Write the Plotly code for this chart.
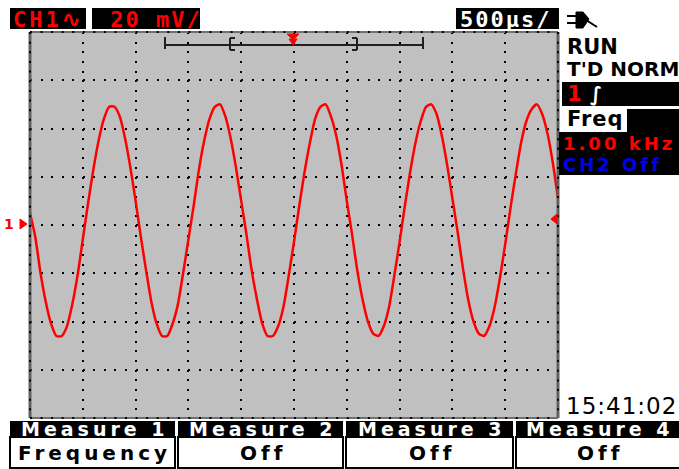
import plotly.graph_objects as go

sample_ms = 0.05          # spacing of the readings along time (ms)
ch1_mv = [
    5, -5, -20, -32, -41, -46, -46, -42, -33, -21, -6, 9, 23, 35, 44, 49, 49, 45, 36, 24,
    10, -5, -19, -32, -41, -46, -46, -41, -33, -20, -6, 8, 23, 35, 44, 49, 50, 45, 36, 24,
    10, -4, -19, -31, -41, -46, -46, -42, -34, -21, -7, 8, 22, 34, 44, 49, 50, 45, 37, 25,
    10, -4, -19, -31, -40, -45, -46, -42, -34, -21, -7, 8, 22, 34, 43, 49, 50, 46, 37, 25,
    11, -3, -18, -31, -40, -45, -46, -42, -34, -22, -8, 7, 21, 34, 43, 48, 50, 46, 38, 26,
    11,
]
time_range_ms = [0, 5]       # 10 div x 500 us/div
volt_range_mv = [-80, 80]    # 8 div x 20 mV/div
x_div_ms = 0.5
y_div_mv = 20

ch1_label = "CH1∿"
scale_label = " 20 mV/"
timebase_label = "500µs/"
status_labels = ["RUN", "T'D NORM"]
trig_src = "1"
trig_slope = "∫"
meas_title = "Freq"
meas_value = "1.00 kHz"
ch2_label = "CH2 Off"
clock_label = "15:41:02"
tab_titles = ["Measure 1", "Measure 2", "Measure 3", "Measure 4"]
tab_values = ["Frequency", "Off", "Off", "Off"]

# ---- layout geometry (pixels) ----
W, H = 679, 469
PL, PT, PR, PB = 30, 32, 558, 418
pw, ph = PR - PL, PB - PT


def X(px):
    return (px - PL) / pw


def Y(py):
    return (PB - py) / ph


RED = "#ff0000"
BLUE = "#0000f0"
MONO = "DejaVu Sans Mono"
SANS = "DejaVu Sans"

fig = go.Figure()
fig.add_trace(go.Scatter(
    y=ch1_mv, x0=time_range_ms[0], dx=sample_ms, mode="lines",
    line=dict(color=RED, width=2.5, shape="spline", smoothing=0.6),
    hoverinfo="skip", showlegend=False,
))

shapes = []


def rect(x0, y0, x1, y1, fill="black", line=None, lw=0):
    shapes.append(dict(type="rect", xref="paper", yref="paper",
                       x0=X(x0), x1=X(x1), y0=Y(y0), y1=Y(y1),
                       fillcolor=fill, line=dict(width=lw, color=line or fill),
                       layer="above"))


def seg(x0, y0, x1, y1, color="black", w=2, dash=None):
    d = dict(type="line", xref="paper", yref="paper",
             x0=X(x0), x1=X(x1), y0=Y(y0), y1=Y(y1),
             line=dict(color=color, width=w), layer="above")
    if dash:
        d["line"]["dash"] = dash
    shapes.append(d)


def path(pts, color):
    p = "M" + " L".join(f"{X(a)},{Y(b)}" for a, b in pts) + " Z"
    shapes.append(dict(type="path", xref="paper", yref="paper", path=p,
                       fillcolor=color, line=dict(color=color, width=1),
                       layer="above"))


# plot border with tick dots
hdash = f"2px,{pw / 50 - 2:.2f}px"
vdash = f"2px,{ph / 40 - 2:.2f}px"
seg(PL, PT, PR, PT, "#707070", 2)
seg(PL, PB, PR, PB, "#707070", 2)
seg(PL, PT, PL, PB, "#606060", 3)
seg(PR, PT, PR, PB, "#606060", 3)
seg(PL, PT, PR, PT, "black", 2, hdash)
seg(PL, PB, PR, PB, "black", 2, hdash)
seg(PL, PT, PL, PB, "black", 2, vdash)
seg(PR, PT, PR, PB, "black", 2, vdash)

# header boxes
rect(10, 8, 86, 29)
rect(92, 8, 200, 29)
rect(456, 8, 559, 29)
# plug icon
seg(567, 16, 577, 16, "black", 2)
seg(567, 23, 577, 23, "black", 2)
path([(576, 12), (583, 12), (589, 19), (583, 28), (576, 28)], "black")
seg(586, 20, 597, 27, "black", 2)

# trigger-position bar
seg(165, 45, 423, 45, "#202020", 2)
seg(165, 37, 165, 49, "#202020", 2)
seg(423, 37, 423, 49, "#202020", 2)
seg(230, 38, 230, 50, "#202020", 2)
seg(230, 38, 235, 38, "#202020", 2)
seg(230, 50, 235, 50, "#202020", 2)
seg(357, 38, 357, 50, "#202020", 2)
seg(352, 38, 357, 38, "#202020", 2)
seg(352, 50, 357, 50, "#202020", 2)
path([(287, 34), (299, 34), (293, 40)], RED)
path([(289, 39), (297, 39), (293, 45)], RED)

# right panel boxes
rect(562, 82, 679, 106)
rect(627, 109, 679, 132)
rect(559, 132, 679, 175)

# channel markers
path([(20, 219), (20, 229), (27, 224)], RED)
path([(557, 214), (557, 224), (551, 219)], RED)

# measurement tabs
tabs_x = [(10, 175), (178, 343), (346, 513), (516, 681)]
for (a, b) in tabs_x:
    rect(a, 421, b, 437)
    rect(a, 437, b, 468, fill="white", line="black", lw=2)

ann = []


def text(x, y, s, color="black", size=20, family=SANS, bold=True,
         xanchor="left", spacing=0):
    if spacing:
        s = f'<span style="letter-spacing:{spacing}px">{s}</span>'
    ann.append(dict(x=X(x), y=Y(y), xref="paper", yref="paper", text=s,
                    showarrow=False, xanchor=xanchor, yanchor="middle",
                    font=dict(family=family, size=size, color=color,
                              weight="bold" if bold else "normal")))


text(11, 19, ch1_label, RED, 22, MONO, spacing=3)
text(93, 19, scale_label, RED, 22, MONO, spacing=2)
text(458, 19, timebase_label, "white", 22, MONO, spacing=2)
text(565, 47, status_labels[0], "black", 21)
text(565, 69, status_labels[1], "black", 20)
text(565, 94, trig_src, RED, 21)
text(588, 94, trig_slope, "white", 20)
text(565, 119, meas_title, "black", 21, spacing=1)
text(561, 143, meas_value, RED, 18, spacing=3)
text(561, 164, ch2_label, BLUE, 18, spacing=3)
text(564, 406, clock_label, "black", 23, SANS, bold=False, spacing=1)
text(16, 224, "1", RED, 14, xanchor="right")

for (a, b), t, v in zip(tabs_x, tab_titles, tab_values):
    cx = (a + min(b, 679)) / 2
    text(cx + 2, 429, t, "white", 19, SANS, xanchor="center", spacing=4)
    text(cx + 2, 453, v, "black", 20, SANS, xanchor="center", spacing=4)

fig.update_layout(
    width=W, height=H,
    margin=dict(l=PL, r=W - PR, t=PT, b=H - PB, pad=0),
    paper_bgcolor="white", plot_bgcolor="#c0c0c0",
    xaxis=dict(range=time_range_ms, dtick=x_div_ms, tick0=0, showticklabels=False,
               ticks="", showgrid=True, gridcolor="black", gridwidth=2,
               griddash=vdash, zeroline=False, showline=False, fixedrange=True),
    yaxis=dict(range=volt_range_mv, dtick=y_div_mv, tick0=0, showticklabels=False,
               ticks="", showgrid=True, gridcolor="black", gridwidth=2,
               griddash=hdash, zeroline=False, showline=False, fixedrange=True),
    shapes=shapes, annotations=ann, showlegend=False,
)

fig.write_html("out.html", config={"displayModeBar": False},
               post_script="document.body.style.margin='0';")
